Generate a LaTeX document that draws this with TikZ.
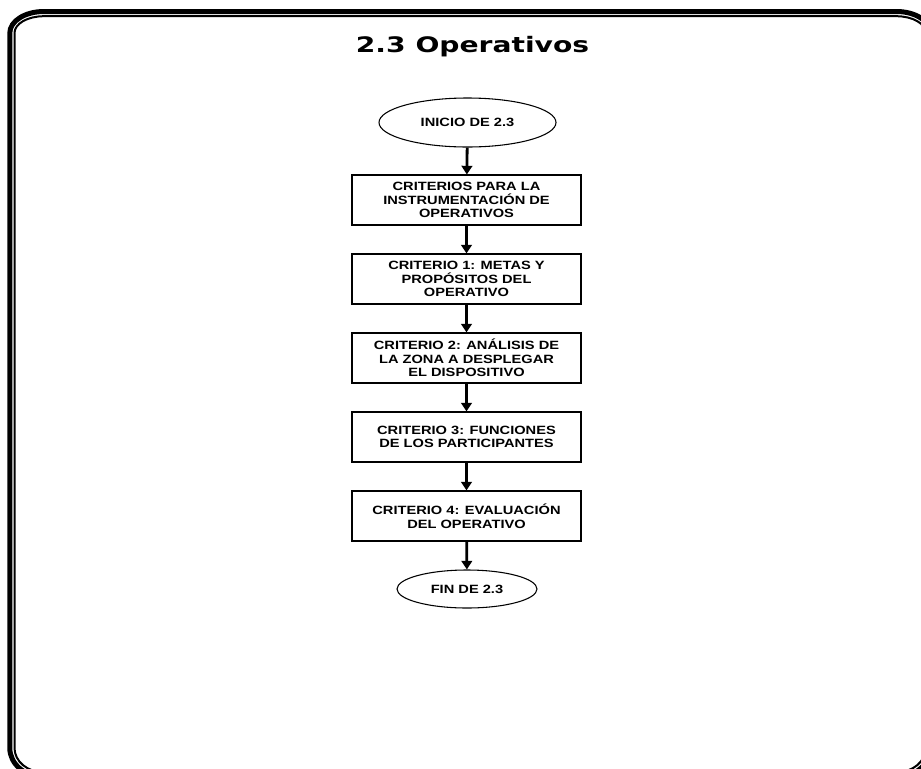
\documentclass[tikz,border=0pt]{standalone}
\usepackage{fontspec}
\usetikzlibrary{shapes.geometric,arrows.meta}
\newfontfamily\titlefont{DejaVu Sans}[FakeStretch=1.32]
\newfontfamily\boxfont{Liberation Sans}[FakeStretch=1.22]
% rectangle with elliptical corners: left, top, right, bottom, x radius, top y radius, bottom y radius
\newcommand\ovalframe[7]{%
  (#1,#2+#6) .. controls (#1,#2+0.448*#6) and (#1+0.448*#5,#2) .. (#1+#5,#2)
  -- (#3-#5,#2) .. controls (#3-0.448*#5,#2) and (#3,#2+0.448*#6) .. (#3,#2+#6)
  -- (#3,#4-#7) .. controls (#3,#4-0.448*#7) and (#3-0.448*#5,#4) .. (#3-#5,#4)
  -- (#1+#5,#4) .. controls (#1+0.448*#5,#4) and (#1,#4-0.448*#7) .. (#1,#4-#7)
  -- cycle}
\begin{document}
\begin{tikzpicture}[x=0.75pt,y=-0.75pt,
  stepbox/.style={draw=black,line width=0.8pt,rectangle,minimum width=171.75pt,
    minimum height=37.5pt,inner sep=0pt,align=center,
    font=\boxfont\bfseries\fontsize{9}{10.2}\selectfont},
  terminal/.style={draw=black,line width=0.8pt,ellipse,inner sep=0pt,align=center,
    font=\boxfont\bfseries\fontsize{9}{10.2}\selectfont},
  flow/.style={line width=2.1pt,-{Triangle[width=8pt,length=6.5pt]}}]
\useasboundingbox (0,0) rectangle (921,768);
\fill[white] (0,0) rectangle (921,768);
% page frame: heavy outer rule with a thin rule just inside it
\draw[line width=3.75pt] \ovalframe{9.8}{11.5}{930.5}{777}{34}{21.5}{29};
\draw[line width=1.5pt] \ovalframe{14.5}{16.2}{925.8}{772.3}{29.3}{16.8}{24.3};
% heading
\node[font=\titlefont\bfseries\fontsize{16}{18}\selectfont,anchor=base] (title) at (472.5,52.5) {2.3 Operativos};
% flow chart
\node[terminal,minimum width=132.75pt,minimum height=36.75pt] (ini) at (467.5,122.5) {INICIO DE 2.3};
\node[stepbox] (b1) at (466.5,200) {CRITERIOS PARA LA\\INSTRUMENTACIÓN DE\\OPERATIVOS};
\node[stepbox] (b2) at (466.5,279) {CRITERIO 1: METAS Y\\PROPÓSITOS DEL\\OPERATIVO};
\node[stepbox] (b3) at (466.5,358) {CRITERIO 2: ANÁLISIS DE\\LA ZONA A DESPLEGAR\\EL DISPOSITIVO};
\node[stepbox] (b4) at (466.5,437) {CRITERIO 3: FUNCIONES\\DE LOS PARTICIPANTES};
\node[stepbox] (b5) at (466.5,516) {CRITERIO 4: EVALUACIÓN\\DEL OPERATIVO};
\node[terminal,minimum width=105pt,minimum height=28.5pt] (fin) at (467,589) {FIN DE 2.3};
\draw[flow] (ini) -- (b1);
\draw[flow] (b1) -- (b2);
\draw[flow] (b2) -- (b3);
\draw[flow] (b3) -- (b4);
\draw[flow] (b4) -- (b5);
\draw[flow] (b5) -- (fin);
\end{tikzpicture}
\end{document}
